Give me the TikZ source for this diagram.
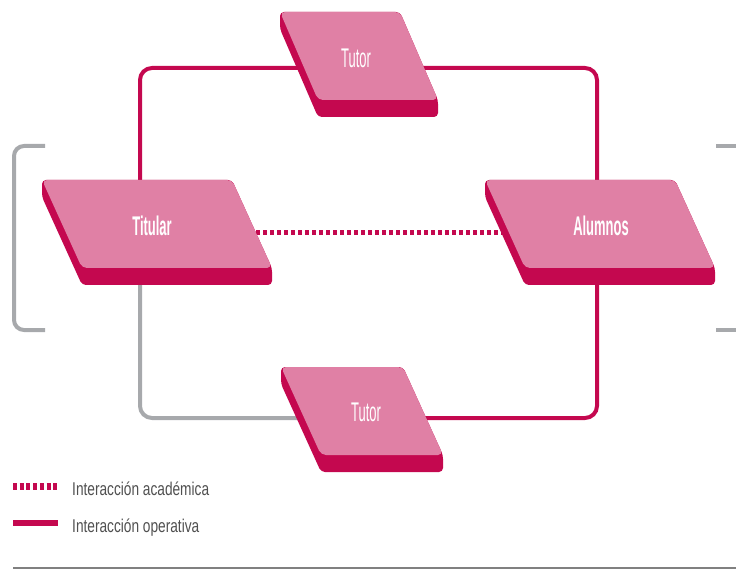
\documentclass[tikz,border=0pt]{standalone}
\usepackage{fontspec}
\setmainfont{Liberation Sans}
\newfontfamily\nodefont[FakeStretch=0.48]{Liberation Sans}
\newfontfamily\legfont[FakeStretch=0.74]{Liberation Sans}
\definecolor{facepink}{RGB}{224,128,165}
\definecolor{darkmag}{RGB}{196,8,79}
\definecolor{lgray}{RGB}{167,169,172}
\definecolor{txtgray}{RGB}{80,80,80}
\tikzset{
  op/.style={draw=darkmag, line width=4pt, rounded corners=12pt},
  grayline/.style={draw=lgray, line width=4pt, rounded corners=12pt},
  acad/.style={draw=darkmag, line width=5pt, dash pattern=on 4pt off 3pt},
  bracket/.style={draw=lgray, line width=4pt, rounded corners=10pt},
  facestyle/.style={fill=facepink, rounded corners=5pt},
  darkstyle/.style={fill=darkmag, rounded corners=4pt},
  lbl/.style={font=\nodefont\fontsize{27}{27}\selectfont, text=white, inner sep=0pt},
  blbl/.style={font=\nodefont\bfseries\fontsize{27}{27}\selectfont, text=white, inner sep=0pt},
  legtxt/.style={font=\legfont\fontsize{18.5}{18.5}\selectfont, text=txtgray, inner sep=0pt, anchor=base west}
}
% x y w h slant
\newcommand\parashape[5]{%
  \path[darkstyle] (#1,#2) -- ++(#3,0) -- ++(#5,#4) -- ++(0,17) -- ++(-#3,0) -- ++(-#5,-#4) -- cycle;
  \path[facestyle] (#1,#2) -- ++(#3,0) -- ++(#5,#4) -- ++(-#3,0) -- cycle;}
\begin{document}
\begin{tikzpicture}[x=1pt,y=-1pt]
\useasboundingbox (0,0) rectangle (736,569);
% connection points
\coordinate (tutA) at (359,68);
\coordinate (tutB) at (362,418);
\coordinate (titC) at (140,233);
\coordinate (aluC) at (597,233);
\coordinate (titM) at (200,233);
\coordinate (aluM) at (560,233);
% brackets
\coordinate (bl1) at (45,146);
\coordinate (bl2) at (45,330);
\coordinate (bl3) at (14,238);
\draw[bracket] (bl1) -| (bl3) |- (bl2);
\coordinate (br1) at (716,146);
\coordinate (br1e) at (736,146);
\coordinate (br2) at (716,330);
\coordinate (br2e) at (736,330);
\draw[draw=lgray, line width=4pt] (br1) -- (br1e);
\draw[draw=lgray, line width=4pt] (br2) -- (br2e);
% connectors
\draw[op] (tutA) -| (titC);
\draw[op] (tutA) -| (aluC);
\draw[grayline] (titC) |- (tutB);
\draw[op] (tutB) -| (aluC);
\draw[acad] (titM) -- (aluM);
% shapes
\parashape{280}{12}{120}{88}{38}
\parashape{42}{180}{190}{88}{40}
\parashape{485}{180}{190}{88}{40}
\parashape{281}{367}{122}{88}{40}
% labels
\node[lbl] (tA) at (356,58) {Tutor};
\node[blbl] (ti) at (152,226) {Titular};
\node[blbl] (al) at (601,226) {Alumnos};
\node[lbl] (tB) at (366,412) {Tutor};
% legend
\coordinate (l1a) at (13,486);
\coordinate (l1b) at (58,486);
\coordinate (l2a) at (13,523);
\coordinate (l2b) at (58,523);
\draw[darkmag, line width=7pt, dash pattern=on 4pt off 2.7pt] (l1a) -- (l1b);
\draw[darkmag, line width=6pt] (l2a) -- (l2b);
\node[legtxt] (lt1) at (72,495) {Interacción académica};
\node[legtxt] (lt2) at (72,532) {Interacción operativa};
% bottom rule
\coordinate (r1) at (13,568);
\coordinate (r2) at (736,568);
\draw[draw=gray, line width=2pt] (r1) -- (r2);
\end{tikzpicture}
\end{document}
